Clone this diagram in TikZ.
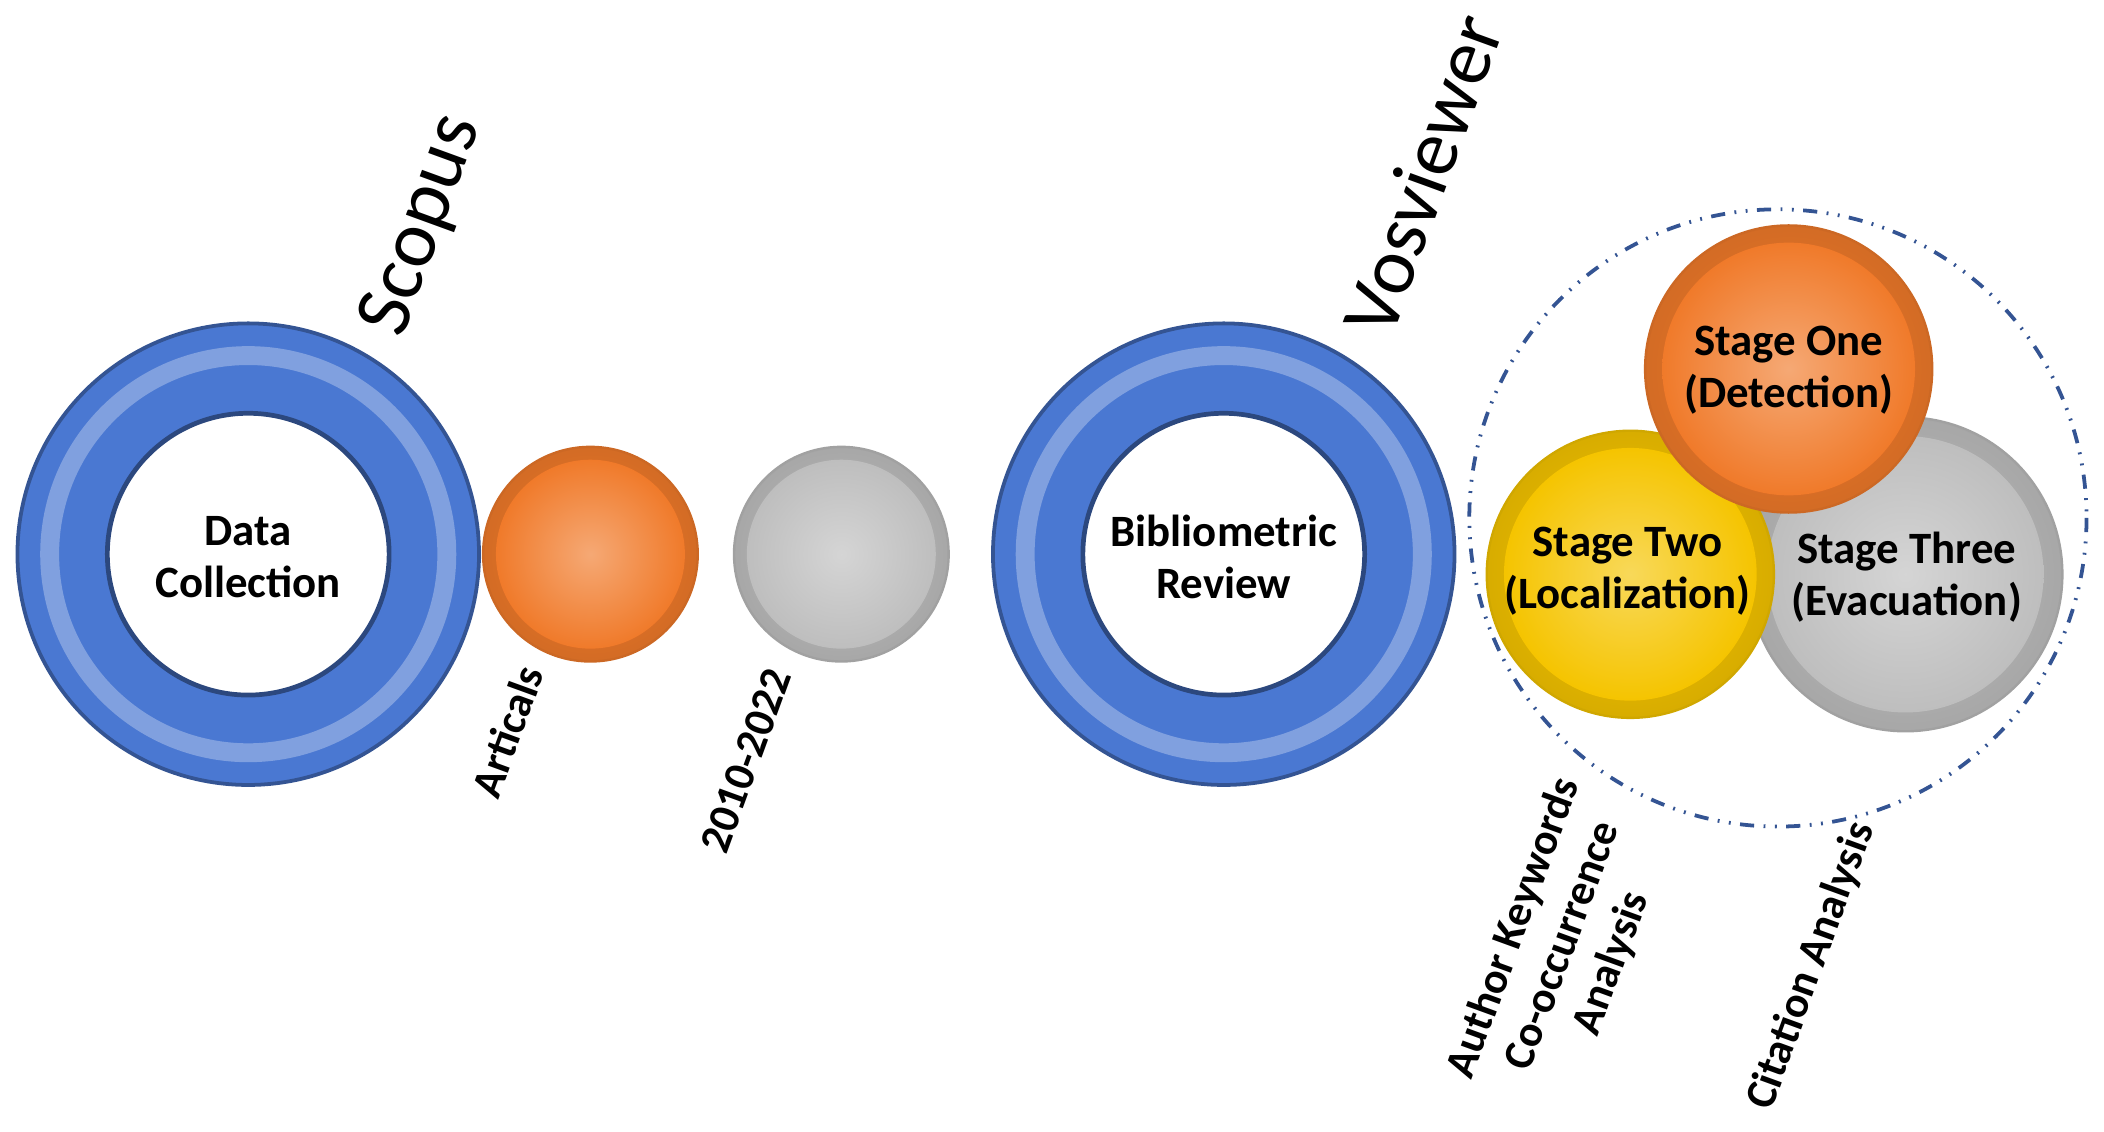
\documentclass[tikz,border=0pt]{standalone}
\usepackage{fontspec}
\setmainfont{Carlito}
\begin{document}
\begin{tikzpicture}[x=0.01cm,y=-0.01cm,
  lbl/.style={font=\bfseries\fontsize{9.5}{11}\selectfont,align=center},
  rot/.style={rotate=70,font=\bfseries\fontsize{9.3}{11}\selectfont,align=center},
]
\definecolor{ringblue}{HTML}{4A78D2}
\definecolor{org}{HTML}{F07A2A}
\definecolor{gry}{HTML}{BEBEBE}
\definecolor{yel}{HTML}{F5C400}
\newcommand{\myball}[3]{%
  \shade[inner color=#1, outer color=#1!88!black] (#2) circle (#3);
  \shade[inner color=#1!65!white, outer color=#1] (#2) circle ({#3*0.88});
  \draw[#1!85!black,line width=0.5pt] (#2) circle (#3);}
\useasboundingbox (0,0) rectangle (1568,843);
% ring 1
\fill[ringblue,even odd rule] (185,413) circle (172) (185,413) circle (105);
\draw[ringblue!70!white,line width=4pt] (185,413) circle (148);
\draw[ringblue!70!black,line width=0.8pt] (185,413) circle (172);
\draw[ringblue!60!black,line width=1pt] (185,413) circle (105);
\node[lbl] (dc) at (185,415) {Data\\Collection};
% balls
\myball{org}{440,413}{80}
\node (ar) at (440,413) {};
\myball{gry}{627,413}{80}
\node (yr) at (627,413) {};
% ring 2
\fill[ringblue,even odd rule] (912,413) circle (172) (912,413) circle (105);
\draw[ringblue!70!white,line width=4pt] (912,413) circle (148);
\draw[ringblue!70!black,line width=0.8pt] (912,413) circle (172);
\draw[ringblue!60!black,line width=1pt] (912,413) circle (105);
\node[lbl] (br) at (912,415) {Bibliometric\\Review};
% stages
\draw[ringblue!70!black,dash dot dot,line width=0.8pt] (1325,386) circle (230);
\myball{gry}{1420,428}{117}
\myball{yel}{1215,428}{107}
\myball{org}{1333,275}{107}
\node[lbl] (s1) at (1333,276) {Stage One\\(Detection)};
\node[lbl] (s2) at (1213,426) {Stage Two\\(Localization)};
\node[lbl] (s3) at (1421,430) {Stage Three\\(Evacuation)};
% rotated labels
\node[rotate=70,font=\fontsize{17}{20}\selectfont] (sc) at (315,168) {Scopus};
\node[rotate=70,font=\fontsize{17}{20}\selectfont] (vv) at (1060,130) {Vosviewer};
\node[rot] (a) at (378,545) {Articals};
\node[rot] (d) at (556,567) {2010-2022};
\node[rot] (ak) at (1165,705) {Author Keywords\\Co-occurrence\\Analysis};
\node[rot] (ca) at (1350,720) {Citation Analysis};
\end{tikzpicture}
\end{document}
